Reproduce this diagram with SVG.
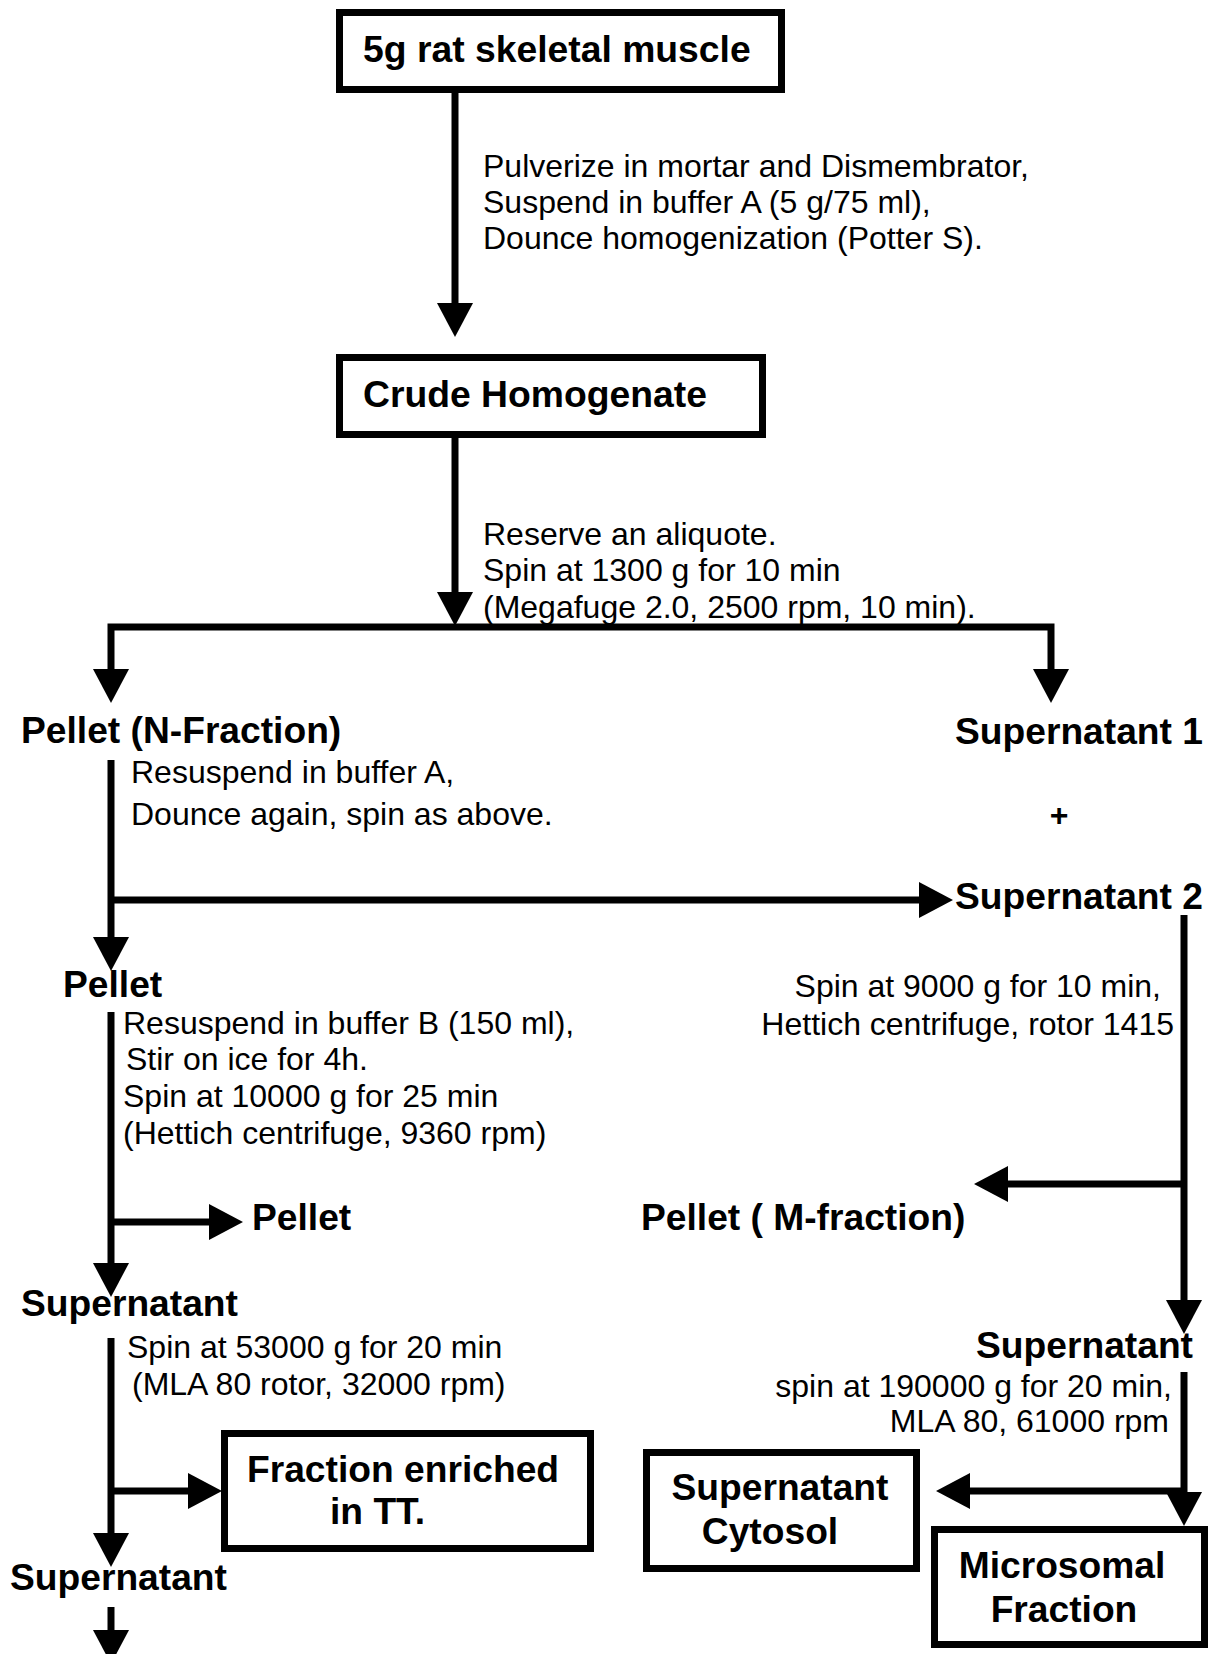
<svg xmlns="http://www.w3.org/2000/svg" xmlns:xlink="http://www.w3.org/1999/xlink" width="1212" height="1654" viewBox="0 0 1212 1654">
<style>
  .box { fill: #fff; stroke: #000; stroke-width: 7; }
  .ln { fill: none; stroke: #000; stroke-width: 7; stroke-linejoin: miter; }
  .t { font-family: "Liberation Sans", Arial, sans-serif; font-size: 32px; fill: #000; }
  .b { font-family: "Liberation Sans", Arial, sans-serif; font-size: 37.2px; font-weight: bold; fill: #000; }
  .bt { font-family: "Liberation Sans", Arial, sans-serif; font-size: 37.3px; font-weight: bold; fill: #000; }
</style>
<defs>
  <path id="ah" d="M-18,-34 L18,-34 L0,0 Z" fill="#000"/>
</defs>
<rect x="0" y="0" width="1212" height="1654" fill="#fff"/>

<g id="connectors">
  <path class="ln" d="M455,93 V305"/>
  <use xlink:href="#ah" transform="translate(455,337)"/>
  <path class="ln" d="M455,438 V594"/>
  <use xlink:href="#ah" transform="translate(455,626)"/>
  <path class="ln" d="M111,670 V627 H1051 V670"/>
  <use xlink:href="#ah" transform="translate(111,703)"/>
  <use xlink:href="#ah" transform="translate(1051,703)"/>

  <path class="ln" d="M111,760 V939 M111,900 H921"/>
  <use xlink:href="#ah" transform="translate(111,971)"/>
  <use xlink:href="#ah" transform="translate(953,900) rotate(-90)"/>

  <path class="ln" d="M111,1012 V1265 M111,1222 H211"/>
  <use xlink:href="#ah" transform="translate(111,1297)"/>
  <use xlink:href="#ah" transform="translate(243,1222) rotate(-90)"/>

  <path class="ln" d="M111,1338 V1535 M111,1491 H190"/>
  <use xlink:href="#ah" transform="translate(111,1567)"/>
  <use xlink:href="#ah" transform="translate(222,1491) rotate(-90)"/>

  <path class="ln" d="M111,1607 V1632"/>
  <use xlink:href="#ah" transform="translate(111,1664)"/>

  <path class="ln" d="M1184,915 V1302 M1184,1184 H1006"/>
  <use xlink:href="#ah" transform="translate(1184,1334)"/>
  <use xlink:href="#ah" transform="translate(974,1184) rotate(90)"/>

  <path class="ln" d="M1184,1372 V1494 M1184,1491 H968"/>
  <use xlink:href="#ah" transform="translate(1184,1526)"/>
  <use xlink:href="#ah" transform="translate(936,1491) rotate(90)"/>
</g>

<g id="n-muscle">
  <rect class="box" x="339.5" y="12.5" width="442" height="77"/>
  <text class="bt" x="363" y="62">5g rat skeletal muscle</text>
</g>
<g id="l-pulverize">
  <text class="t" x="483" y="177">Pulverize in mortar and Dismembrator,</text>
  <text class="t" x="483" y="213">Suspend in buffer A (5 g/75 ml),</text>
  <text class="t" x="483" y="249">Dounce homogenization (Potter S).</text>
</g>
<g id="n-crude">
  <rect class="box" x="339.5" y="357.5" width="423" height="77"/>
  <text class="bt" x="363" y="407">Crude Homogenate</text>
</g>
<g id="l-reserve">
  <text class="t" x="483" y="545">Reserve an aliquote.</text>
  <text class="t" x="483" y="581">Spin at 1300 g for 10 min</text>
  <text class="t" x="483" y="618">(Megafuge 2.0, 2500 rpm, 10 min).</text>
</g>
<g id="n-pellet-n">
  <text class="b" x="21" y="743">Pellet (N-Fraction)</text>
</g>
<g id="l-resuspend-a">
  <text class="t" x="131" y="783">Resuspend in buffer A,</text>
  <text class="t" x="131" y="825">Dounce again, spin as above.</text>
</g>
<g id="n-sup1">
  <text class="b" x="955" y="744">Supernatant 1</text>
</g>
<g id="l-plus">
  <text class="b" x="1059" y="826" text-anchor="middle" style="font-size:32px">+</text>
</g>
<g id="n-sup2">
  <text class="b" x="955" y="909">Supernatant 2</text>
</g>
<g id="n-pellet">
  <text class="b" x="63" y="997">Pellet</text>
</g>
<g id="l-resuspend-b">
  <text class="t" x="123" y="1034">Resuspend in buffer B (150 ml),</text>
  <text class="t" x="126" y="1070">Stir on ice for 4h.</text>
  <text class="t" x="123" y="1107">Spin at 10000 g for 25 min</text>
  <text class="t" x="123" y="1144">(Hettich centrifuge, 9360 rpm)</text>
</g>
<g id="n-pellet2">
  <text class="b" x="252" y="1230">Pellet</text>
</g>
<g id="l-spin9000">
  <text class="t" x="1161" y="997" text-anchor="end">Spin at 9000 g for 10 min,</text>
  <text class="t" x="1174" y="1035" text-anchor="end">Hettich centrifuge, rotor 1415</text>
</g>
<g id="n-pellet-m">
  <text class="b" x="641" y="1230">Pellet ( M-fraction)</text>
</g>
<g id="n-sup-left">
  <text class="b" x="21" y="1316">Supernatant</text>
</g>
<g id="l-spin53000">
  <text class="t" x="127" y="1358">Spin at 53000 g for 20 min</text>
  <text class="t" x="132" y="1395">(MLA 80 rotor, 32000 rpm)</text>
</g>
<g id="n-sup-right">
  <text class="b" x="1193" y="1358" text-anchor="end">Supernatant</text>
</g>
<g id="l-spin190000">
  <text class="t" x="1172" y="1397" text-anchor="end">spin at 190000 g for 20 min,</text>
  <text class="t" x="1169" y="1432" text-anchor="end">MLA 80, 61000 rpm</text>
</g>
<g id="n-tt">
  <rect class="box" x="224.5" y="1433.5" width="366" height="115"/>
  <text class="b" x="247" y="1482">Fraction enriched</text>
  <text class="b" x="330" y="1524">in TT.</text>
</g>
<g id="n-cytosol">
  <rect class="box" x="646.5" y="1452.5" width="270" height="116"/>
  <text class="b" x="780" y="1500" text-anchor="middle">Supernatant</text>
  <text class="b" x="770" y="1544" text-anchor="middle">Cytosol</text>
</g>
<g id="n-microsomal">
  <rect class="box" x="934.5" y="1529.5" width="270" height="115"/>
  <text class="b" x="1062" y="1578" text-anchor="middle">Microsomal</text>
  <text class="b" x="1064" y="1622" text-anchor="middle">Fraction</text>
</g>
<g id="n-sup-bottom">
  <text class="b" x="10" y="1590">Supernatant</text>
</g>
</svg>
